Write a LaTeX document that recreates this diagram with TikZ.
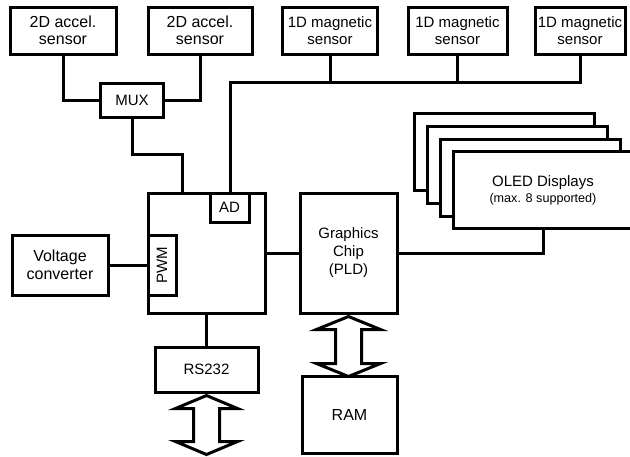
\documentclass[tikz,border=0pt]{standalone}
\usepackage{fontspec}
\setmainfont{Liberation Sans}
\usetikzlibrary{calc}
\begin{document}
\begin{tikzpicture}[x=1pt,y=-1pt,
  box/.style={draw, line width=3pt, fill=white, rectangle, inner sep=0pt, align=center,
    font=\fontsize{15}{17}\selectfont},
  big/.style={font=\fontsize{16}{17.5}\selectfont},
  dbl/.style={draw, fill=white, line width=3pt, miter limit=10},
  wire/.style={line width=3pt}]
\useasboundingbox (0,0) rectangle (630,456);
\clip (0,0) rectangle (630,456);
% sensors
\node[box, big, minimum width=106, minimum height=47] (a1) at (63,30.5) {2D accel.\\sensor};
\node[box, big, minimum width=104, minimum height=47] (a2) at (200,30.5) {2D accel.\\sensor};
\node[box, minimum width=95, minimum height=47] (m1) at (330,30.5) {1D magnetic\\sensor};
\node[box, minimum width=99, minimum height=47] (m2) at (457.5,30.5) {1D magnetic\\sensor};
\node[box, minimum width=90, minimum height=47] (m3) at (580,30.5) {1D magnetic\\sensor};
% mux
\node[box, minimum width=63, minimum height=34] (mux) at (132,100) {MUX};
% mcu
\node[box, minimum width=117, minimum height=120] (mcu) at (206.5,253) {};
\node[box, minimum width=39, minimum height=29] (ad) at (229.5,207.5) {AD};
\node[box, rotate=90, minimum width=60, minimum height=28] (pwm) at (162,265) {PWM};
\node[box, big, minimum width=96, minimum height=60] (volt) at (60,265) {Voltage\\converter};
% graphics chip
\node[box, minimum width=97, minimum height=120, font=\fontsize{15}{18}\selectfont] (gc) at (348.5,253) {Graphics\\Chip\\(PLD)};
\node[box, minimum width=103, minimum height=45] (rs) at (206.5,369.5) {RS232};
\node[box, big, minimum width=95, minimum height=77] (ram) at (349.5,414.5) {RAM};
% OLED stack
\node[box, minimum width=180, minimum height=77] (o1) at (504,151.5) {};
\node[box, minimum width=180, minimum height=77] (o2) at (517,165) {};
\node[box, minimum width=180, minimum height=77] (o3) at (530,178) {};
\node[box, minimum width=180, minimum height=77] (o4) at (543,190) {OLED Displays\\[-1pt]{\fontsize{12.6}{14}\selectfont (max. 8 supported)}};
% wires
\draw[wire] (a1.south) |- (mux.west);
\draw[wire] (a2.south) |- (mux.east);
\coordinate (j1) at (182,154);
\draw[wire] (mux.south) |- (j1) -- (j1 |- mcu.north);
\coordinate (bus) at (230,82);
\draw[wire] (m3.south) |- (bus) -- (bus |- ad.north);
\draw[wire] (m1.south) -- (m1.south |- bus);
\draw[wire] (m2.south) -- (m2.south |- bus);
\draw[wire] (volt.east) -- (pwm.north);
\draw[wire] (mcu.east) -- (gc.west);
\draw[wire] (gc.east) -| (o4.south);
\draw[wire] (mcu.south) -- (rs.north);
% double arrows
\draw[dbl] ([yshift=-2pt]rs.south) -- ++(31,13) -- ++(-18,0) -- ++(0,33) -- ++(18,0)
  -- ++(-31,13) -- ++(-31,-13) -- ++(18,0) -- ++(0,-33) -- ++(-18,0) -- cycle;
\draw[dbl] ([yshift=-2pt]gc.south) -- ++(32,13) -- ++(-19,0) -- ++(0,34) -- ++(19,0)
  -- ++(-32,13) -- ++(-32,-13) -- ++(19,0) -- ++(0,-34) -- ++(-19,0) -- cycle;
\end{tikzpicture}
\end{document}
